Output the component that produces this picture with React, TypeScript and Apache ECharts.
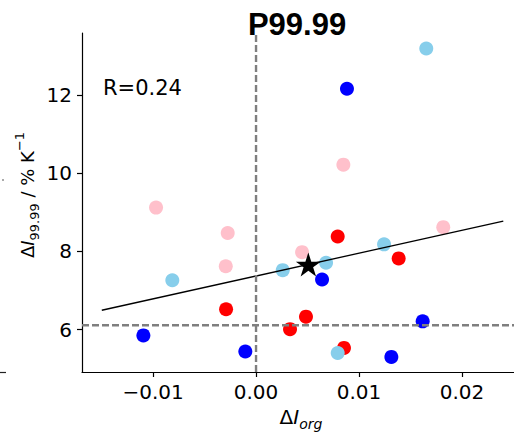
import React, { useEffect, useRef } from "react";
import * as echarts from "echarts";

// Axis extents and labelled ticks
const xRange = [-0.0169, 0.02505];
const yRange = [4.914, 13.588];
const xTicks = [-0.01, 0.0, 0.01, 0.02];
const yTicks = [6, 8, 10, 12];

// Model groups: [ΔI_org, ΔI_99.99]
const redPoints = [
  [0.00793, 8.38],
  [0.01385, 7.82],
  [-0.00291, 6.52],
  [0.00485, 6.33],
  [0.0033, 6.01],
  [0.00854, 5.53],
];
const bluePoints = [
  [0.00883, 12.16],
  [0.00641, 7.28],
  [-0.01094, 5.85],
  [-0.00104, 5.44],
  [0.01618, 6.21],
  [0.01314, 5.3],
];
const pinkPoints = [
  [-0.00971, 9.12],
  [0.00848, 10.22],
  [-0.00275, 8.47],
  [-0.00294, 7.62],
  [0.00447, 7.98],
  [0.01818, 8.62],
];
const skyPoints = [
  [0.01653, 13.19],
  [-0.00813, 7.26],
  [0.00259, 7.52],
  [0.0068, 7.71],
  [0.01243, 8.18],
  [0.00793, 5.4],
];
const meanPoint = [[0.00508, 7.665]];

// Least-squares fit end points and reference levels
const fitLine = [
  [-0.01498, 6.494],
  [0.02401, 8.773],
];
const refX = 0;
const refY = 6.11;
const corrLabel = "R=0.24";
const panelTitle = "P99.99";

const FONT = "DejaVu Sans";
const STAR =
  "path://M0,-1 L0.2245,-0.309 L0.9511,-0.309 L0.3633,0.118 L0.5878,0.809 L0,0.382 L-0.5878,0.809 L-0.3633,0.118 L-0.9511,-0.309 L-0.2245,-0.309 Z";

const fmtX = (v: number) => (v < 0 ? "\u2212" : "") + Math.abs(v).toFixed(2);

const makeRich = (size: number) => {
  const small = Math.round(size * 0.7);
  return {
    n: { fontSize: size, fontFamily: FONT, color: "#000", lineHeight: 28 },
    i: { fontSize: size, fontFamily: FONT, fontStyle: "italic", color: "#000", lineHeight: 28 },
    s: { fontSize: small, fontFamily: FONT, color: "#000", lineHeight: 17, verticalAlign: "bottom" },
    si: { fontSize: small, fontFamily: FONT, fontStyle: "italic", color: "#000", lineHeight: 17, verticalAlign: "bottom" },
    p: { fontSize: small, fontFamily: FONT, color: "#000", lineHeight: 14, verticalAlign: "top" },
  };
};

const dotSeries = (data: number[][], color: string) => ({
  type: "scatter",
  data,
  symbol: "circle",
  symbolSize: 14,
  itemStyle: { color, opacity: 1 },
  z: 2,
  silent: true,
});

const refLine = (data: number[][]) => ({
  type: "line",
  data,
  symbol: "none",
  lineStyle: { color: "#7f7f7f", width: 2.4, type: [7, 3] },
  z: 3,
  silent: true,
});

export default function App() {
  const ref = useRef<HTMLDivElement>(null);

  useEffect(() => {
    if (!ref.current) return;
    const chart = echarts.init(ref.current, null, { renderer: "svg" });
    chart.setOption({
      animation: false,
      backgroundColor: "#fff",
      grid: { left: 82, right: 0, top: 33, bottom: 60 },
      xAxis: {
        type: "value",
        min: xRange[0],
        max: xRange[1],
        axisLine: { show: true, onZero: false, lineStyle: { color: "#000", width: 1.2 } },
        axisTick: { show: true, customValues: xTicks, length: 5, lineStyle: { color: "#000", width: 1.2 } },
        axisLabel: {
          customValues: xTicks,
          formatter: fmtX,
          margin: 10,
          fontSize: 20,
          fontFamily: FONT,
          color: "#000",
        },
        splitLine: { show: false },
      },
      yAxis: {
        type: "value",
        min: yRange[0],
        max: yRange[1],
        axisLine: { show: true, onZero: false, lineStyle: { color: "#000", width: 1.2 } },
        axisTick: { show: true, customValues: yTicks, length: 5, lineStyle: { color: "#000", width: 1.2 } },
        axisLabel: {
          customValues: yTicks,
          formatter: (v: number) => String(v),
          margin: 10,
          fontSize: 20,
          fontFamily: FONT,
          color: "#000",
        },
        splitLine: { show: false },
      },
      series: [
        dotSeries(redPoints, "#ff0000"),
        dotSeries(bluePoints, "#0000ff"),
        dotSeries(pinkPoints, "#ffc0cb"),
        dotSeries(skyPoints, "#87ceeb"),
        {
          type: "line",
          data: fitLine,
          symbol: "none",
          lineStyle: { color: "#000", width: 1.3 },
          z: 3,
          silent: true,
        },
        refLine([
          [refX, yRange[0]],
          [refX, yRange[1]],
        ]),
        refLine([
          [xRange[0], refY],
          [xRange[1], refY],
        ]),
        {
          type: "scatter",
          data: meanPoint,
          symbol: STAR,
          symbolSize: [25, 24],
          itemStyle: { color: "#000", opacity: 1 },
          z: 5,
          silent: true,
        },
      ],
      graphic: [
        {
          type: "text",
          x: 297,
          y: 24,
          style: {
            text: panelTitle,
            fontSize: 31,
            fontWeight: "bold",
            fontFamily: "Liberation Sans",
            fill: "#000",
            align: "center",
            verticalAlign: "middle",
          },
        },
        {
          type: "text",
          x: 103,
          y: 88,
          style: {
            text: corrLabel,
            fontSize: 21,
            fontFamily: FONT,
            fill: "#000",
            align: "left",
            verticalAlign: "middle",
          },
        },
        {
          type: "text",
          x: 301,
          y: 417,
          style: {
            text: "{n|Δ}{i|I}{si|org}",
            rich: makeRich(20),
            align: "center",
            verticalAlign: "middle",
          },
        },
        {
          type: "text",
          x: 27,
          y: 195,
          rotation: Math.PI / 2,
          style: {
            text: "{n|Δ}{i|I}{s|99.99}{n| / % K}{p|\u22121}",
            rich: makeRich(18),
            align: "center",
            verticalAlign: "middle",
          },
        },
        // edge of the neighbouring panel
        { type: "rect", shape: { x: 2, y: 179, width: 2, height: 2 }, style: { fill: "#aaa" } },
        {
          type: "line",
          shape: { x1: 0, y1: 372.5, x2: 6, y2: 372.5 },
          style: { stroke: "#222", lineWidth: 1.2 },
        },
      ],
    });
    return () => chart.dispose();
  }, []);

  return (
    <div
      ref={ref}
      style={{ position: "absolute", left: 0, top: 0, width: 514, height: 432 }}
    />
  );
}
